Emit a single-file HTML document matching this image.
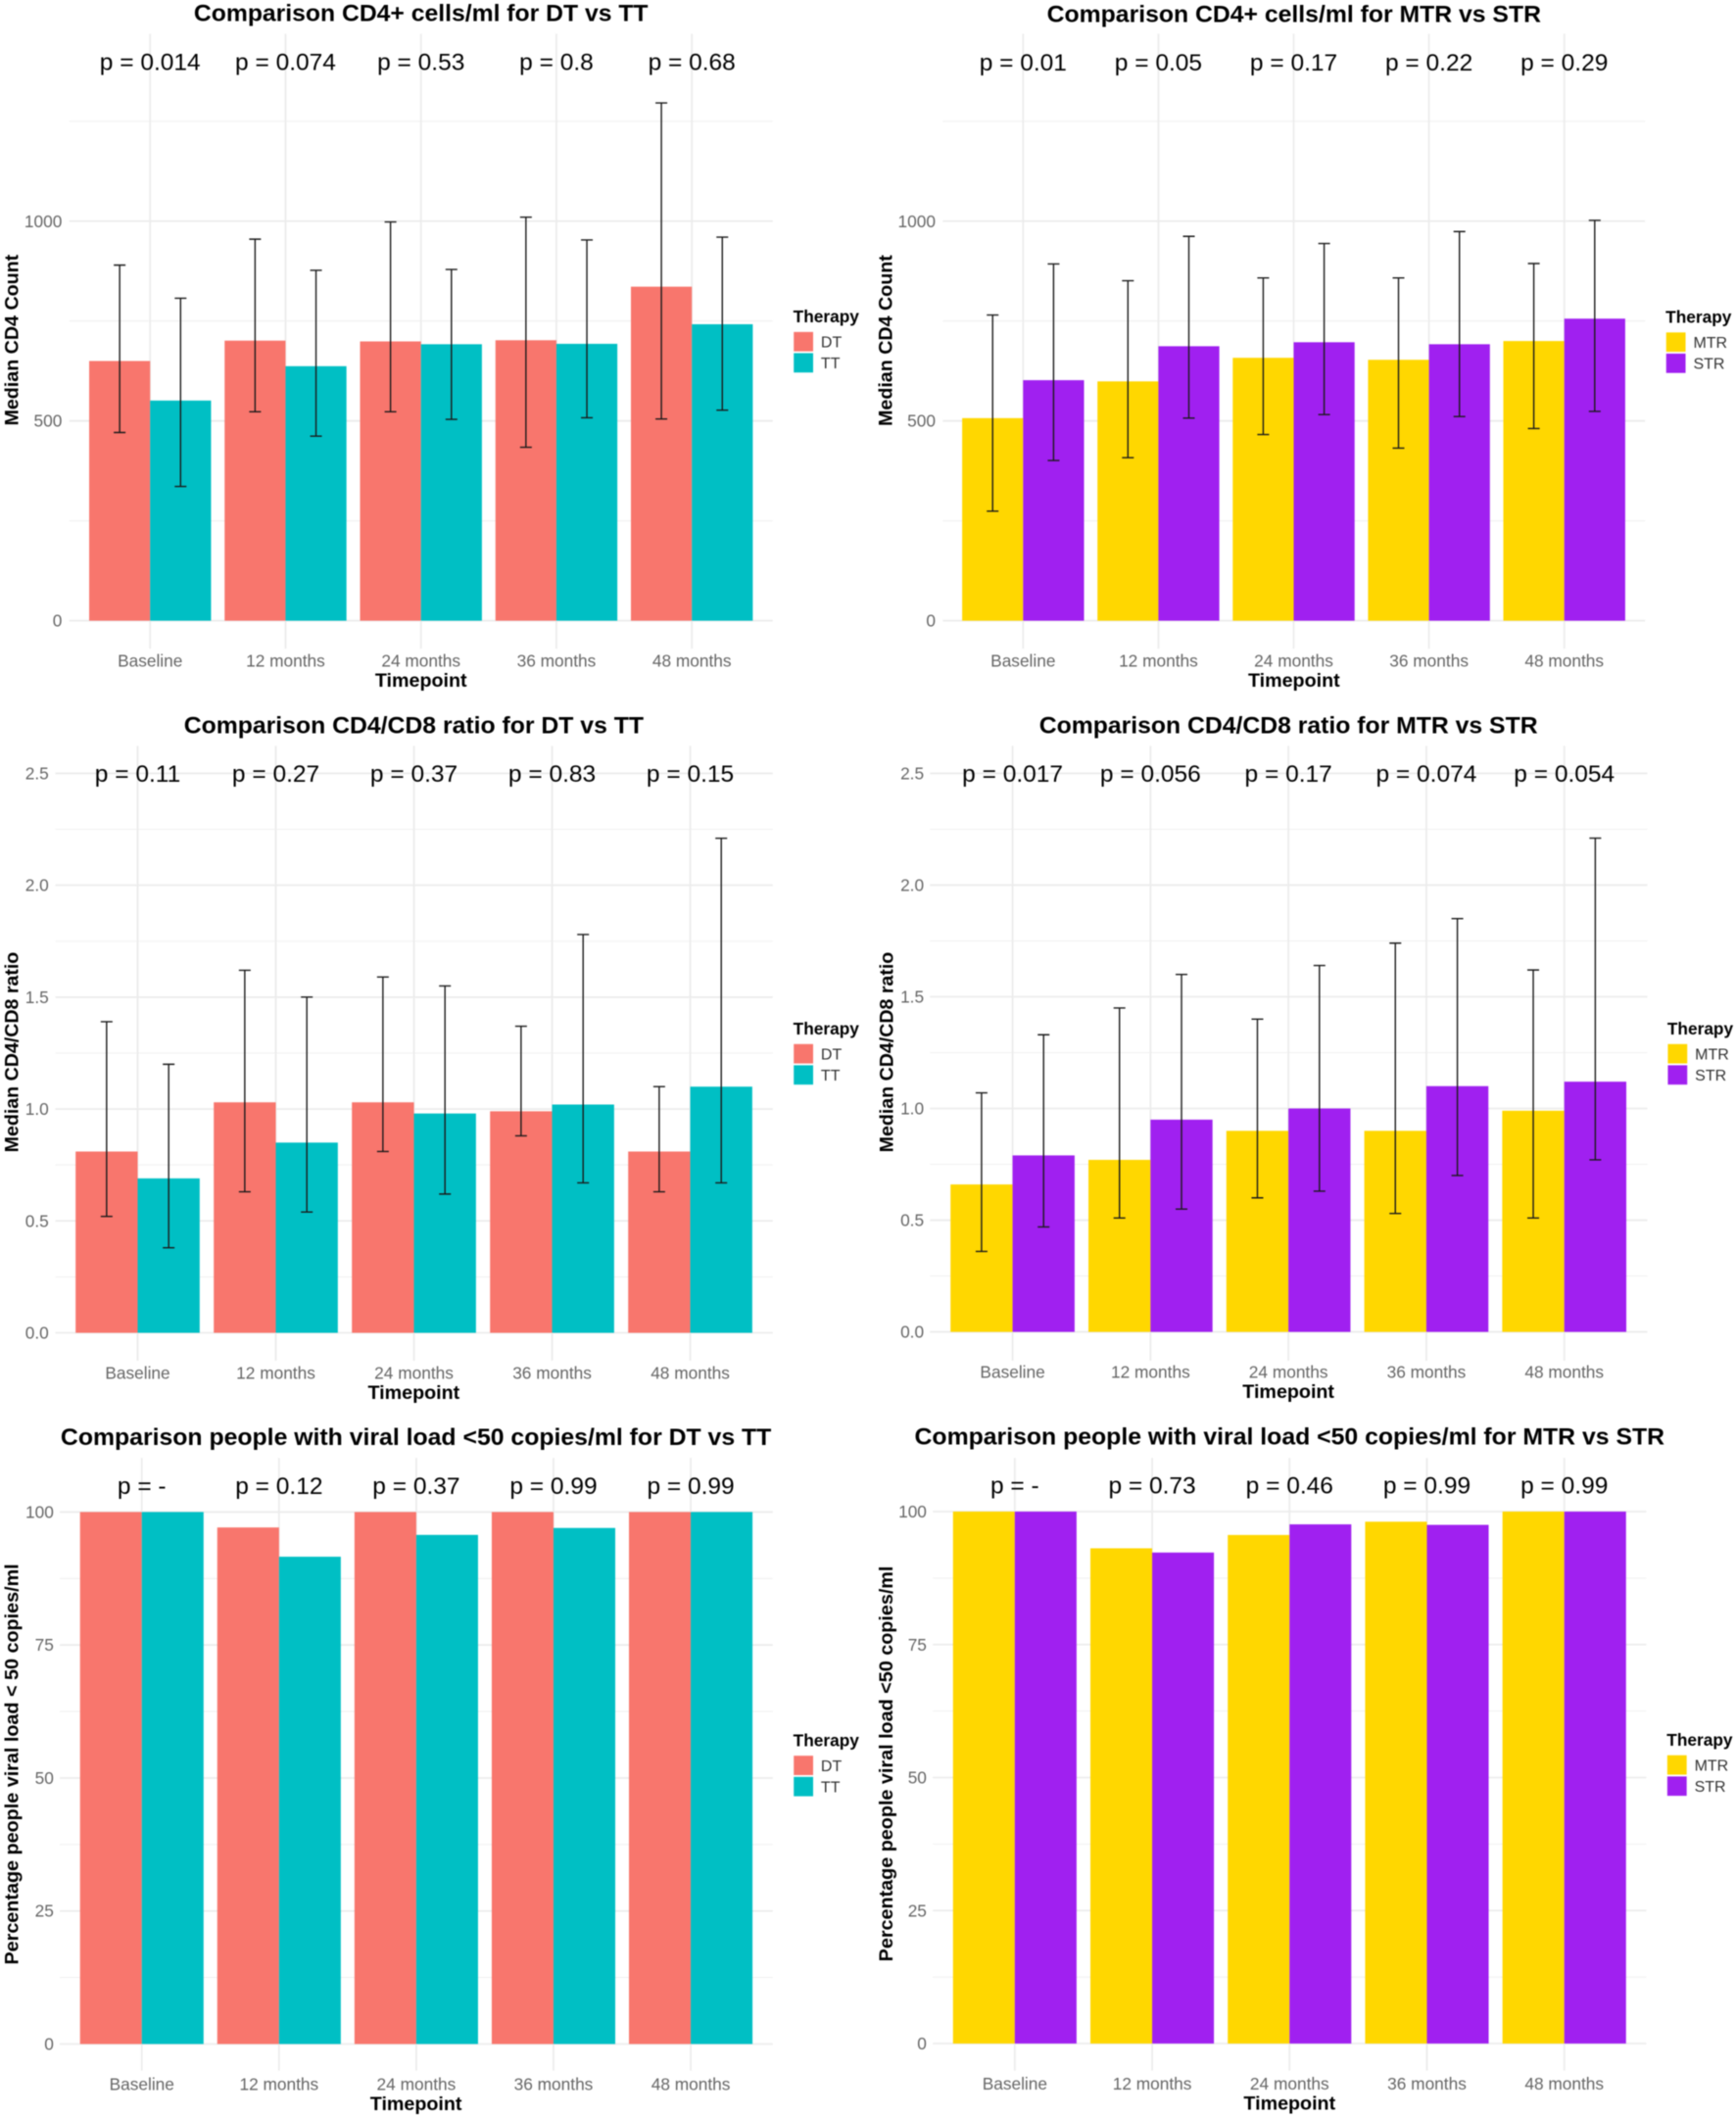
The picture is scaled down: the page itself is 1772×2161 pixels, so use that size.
<!DOCTYPE html>
<html lang="en">
<head>
<meta charset="utf-8">
<title>CD4, CD4/CD8 and viral load comparisons</title>
<style>
html,body{margin:0;padding:0;background:#fff;overflow:hidden;}
#figure{display:block;width:1772px;height:2161px;filter:blur(0.45px);font-family:"Liberation Sans",Arial,sans-serif;}
</style>
</head>
<body>
<svg id="figure" xmlns="http://www.w3.org/2000/svg" width="1772" height="2161" viewBox="0 0 1772 2161"></svg>
<script>
const categories = ["Baseline", "12 months", "24 months", "36 months", "48 months"];

const cd4Ticks = [0, 500, 1000];
const cd4TickLabels = ["0", "500", "1000"];
const cd4Minor = [250, 750, 1250];
const ratioTicks = [0, 0.5, 1, 1.5, 2, 2.5];
const ratioTickLabels = ["0.0", "0.5", "1.0", "1.5", "2.0", "2.5"];
const ratioMinor = [0.25, 0.75, 1.25, 1.75, 2.25];
const vlTicks = [0, 25, 50, 75, 100];
const vlTickLabels = ["0", "25", "50", "75", "100"];
const vlMinor = [12.5, 37.5, 62.5, 87.5];

const cd4DtMedian = [650, 701, 699, 702, 836];
const cd4DtLow = [471, 523, 523, 434, 505];
const cd4DtHigh = [890, 955, 998, 1010, 1296];
const cd4TtMedian = [551, 637, 692, 693, 742];
const cd4TtLow = [336, 462, 504, 508, 527];
const cd4TtHigh = [807, 877, 879, 953, 960];
const cd4DtTtP = ["p = 0.014", "p = 0.074", "p = 0.53", "p = 0.8", "p = 0.68"];

const cd4MtrMedian = [507, 599, 658, 653, 700];
const cd4MtrLow = [274, 408, 466, 432, 481];
const cd4MtrHigh = [765, 851, 858, 858, 894];
const cd4StrMedian = [602, 687, 697, 692, 756];
const cd4StrLow = [401, 507, 516, 511, 524];
const cd4StrHigh = [893, 962, 944, 974, 1002];
const cd4MtrStrP = ["p = 0.01", "p = 0.05", "p = 0.17", "p = 0.22", "p = 0.29"];

const ratioDtMedian = [0.81, 1.03, 1.03, 0.99, 0.81];
const ratioDtLow = [0.52, 0.63, 0.81, 0.88, 0.63];
const ratioDtHigh = [1.39, 1.62, 1.59, 1.37, 1.10];
const ratioTtMedian = [0.69, 0.85, 0.98, 1.02, 1.10];
const ratioTtLow = [0.38, 0.54, 0.62, 0.67, 0.67];
const ratioTtHigh = [1.20, 1.50, 1.55, 1.78, 2.21];
const ratioDtTtP = ["p = 0.11", "p = 0.27", "p = 0.37", "p = 0.83", "p = 0.15"];

const ratioMtrMedian = [0.66, 0.77, 0.90, 0.90, 0.99];
const ratioMtrLow = [0.36, 0.51, 0.60, 0.53, 0.51];
const ratioMtrHigh = [1.07, 1.45, 1.40, 1.74, 1.62];
const ratioStrMedian = [0.79, 0.95, 1.00, 1.10, 1.12];
const ratioStrLow = [0.47, 0.55, 0.63, 0.70, 0.77];
const ratioStrHigh = [1.33, 1.60, 1.64, 1.85, 2.21];
const ratioMtrStrP = ["p = 0.017", "p = 0.056", "p = 0.17", "p = 0.074", "p = 0.054"];

const vlDtPercent = [100, 97.1, 100, 100, 100];
const vlTtPercent = [100, 91.6, 95.7, 97.0, 100];
const vlDtTtP = ["p = -", "p = 0.12", "p = 0.37", "p = 0.99", "p = 0.99"];

const vlMtrPercent = [100, 93.1, 95.6, 98.1, 100];
const vlStrPercent = [100, 92.3, 97.6, 97.5, 100];
const vlMtrStrP = ["p = -", "p = 0.73", "p = 0.46", "p = 0.99", "p = 0.99"];

const seriesDtName = "DT";
const seriesTtName = "TT";
const seriesMtrName = "MTR";
const seriesStrName = "STR";

const NS = "http://www.w3.org/2000/svg";
const K = 0.5654;
const KY = 0.4598;
const svg = document.getElementById("figure");
const COL_DT = "#F8766D", COL_TT = "#00BFC4", COL_MTR = "#FFD700", COL_STR = "#A020F0";

function make(tag, parent, attrs) {
  const el = document.createElementNS(NS, tag);
  for (const k in attrs) el.setAttribute(k, attrs[k]);
  parent.appendChild(el);
  return el;
}

function label(parent, txt, x, y, o) {
  const a = {
    "font-size": o.size,
    "font-weight": o.bold ? "bold" : "normal",
    "fill": o.fill || "#000",
    "text-anchor": o.anchor || "start",
    "transform": "translate(" + x + "," + y + ")" + (o.rot ? " rotate(-90)" : "") + (o.sx ? " scale(" + o.sx + ",1)" : "")
  };
  if (o.len) { a.textLength = o.len; a.lengthAdjust = "spacingAndGlyphs"; }
  const t = make("text", parent, a);
  t.textContent = txt;
  return t;
}

function drawPanel(cfg) {
  const X = v => cfg.ox + v * K;
  const Y = v => cfg.oy + v * KY;
  const xScale = i => X(cfg.cat0 + i * cfg.catStep);
  const yScale = v => Y(cfg.y0 - v * cfg.yUnit);
  const barW = cfg.barW * K;

  const g = make("g", svg, {});
  
  

  cfg.minor.forEach(v => {
    const l = make("line", g, {x1: X(cfg.left), x2: X(cfg.right), y1: yScale(v), y2: yScale(v), stroke: "#f1f1f1", "stroke-width": 1.1});
    
    
  });
  cfg.ticks.forEach(v => {
    const l = make("line", g, {x1: X(cfg.left), x2: X(cfg.right), y1: yScale(v), y2: yScale(v), stroke: "#ececec", "stroke-width": 1.8});
    
    
  });
  categories.forEach((c, i) => {
    const l = make("line", g, {x1: xScale(i), x2: xScale(i), y1: Y(cfg.top), y2: Y(cfg.bottom), stroke: "#ececec", "stroke-width": 1.8});
    
    
  });

  cfg.series.forEach((s, si) => {
    s.values.forEach((v, i) => {
      const x0 = xScale(i) + (si === 0 ? -barW : 0);
      const r = make("rect", g, {x: x0, y: yScale(v), width: barW, height: yScale(0) - yScale(v), fill: s.color});
      
      
    });
  });

  cfg.series.forEach((s, si) => {
    if (!s.low) return;
    s.values.forEach((v, i) => {
      const cx = xScale(i) + (si === 0 ? -barW / 2 : barW / 2);
      const yL = yScale(s.low[i]), yH = yScale(s.high[i]);
      const e = make("path", g, {
        d: "M" + (cx - 6) + " " + yH + "H" + (cx + 6) + "M" + cx + " " + yH + "V" + yL + "M" + (cx - 6) + " " + yL + "H" + (cx + 6),
        fill: "none", stroke: "#1a1a1a", "stroke-width": 1.4
      });
      
      
    });
  });

  const title = label(g, cfg.title, X(cfg.titleX), Y(cfg.titleBase), {size: 24.5, bold: true, anchor: "middle", len: cfg.titleLen * K});
  
  

  cfg.pValues.forEach((p, i) => {
    const t = label(g, p, xScale(i), Y(cfg.pBase), {size: 24.5, anchor: "middle"});
    
    
  });

  categories.forEach((c, i) => {
    const t = label(g, c, xScale(i), Y(cfg.catBase), {size: 17.3, anchor: "middle", fill: "#666"});
    
    
  });
  cfg.ticks.forEach((v, i) => {
    const t = label(g, cfg.tickLabels[i], X(cfg.tickRight), yScale(v) + 6, {size: 17.3, anchor: "end", fill: "#666"});
    
    
  });

  const xt = label(g, "Timepoint", X(cfg.titleX), Y(cfg.xTitleBase), {size: 19.7, bold: true, anchor: "middle"});
  
  

  const yt = label(g, cfg.yTitle, X(cfg.yTitleBase), Y(cfg.yTitleMid), {size: 19.7, bold: true, anchor: "middle", rot: true, len: cfg.yTitleLen * KY});
  
  

  const lg = make("g", g, {});
  
  
  const lt = label(lg, "Therapy", X(cfg.legendX), Y(cfg.legendBase), {size: 17.3, bold: true});
  
  
  cfg.series.forEach((s, si) => {
    const top = cfg.legendBase + 21 + si * 47;
    const k = make("rect", lg, {x: X(cfg.legendX + 1), y: Y(top), width: 35 * K, height: 43 * KY, fill: s.color});
    
    
    const t = label(lg, s.name, X(cfg.legendX + 50), Y(top + 34), {size: 16, fill: "#333"});
    
    
  });
}

drawPanel({
  name: "cd4-dt-vs-tt-panel", ox: 0, oy: 0,
  left: 125, right: 1395, top: 75, bottom: 1440, y0: 1378, yUnit: 0.887, cat0: 271, catStep: 244.5, barW: 110,
  ticks: cd4Ticks, tickLabels: cd4TickLabels, minor: cd4Minor, tickRight: 112,
  title: "Comparison CD4+ cells/ml for DT vs TT", titleX: 760, titleBase: 47, titleLen: 820,
  pValues: cd4DtTtP, pBase: 155, catBase: 1480, xTitleBase: 1525,
  yTitle: "Median CD4 Count", yTitleBase: 33, yTitleMid: 755, yTitleLen: 380,
  legendX: 1432, legendBase: 716,
  series: [
    {name: seriesDtName, color: COL_DT, values: cd4DtMedian, low: cd4DtLow, high: cd4DtHigh},
    {name: seriesTtName, color: COL_TT, values: cd4TtMedian, low: cd4TtLow, high: cd4TtHigh}
  ]
});

drawPanel({
  name: "cd4-mtr-vs-str-panel", ox: 886, oy: 0,
  left: 135, right: 1403, top: 75, bottom: 1440, y0: 1378, yUnit: 0.887, cat0: 280, catStep: 244.25, barW: 110,
  ticks: cd4Ticks, tickLabels: cd4TickLabels, minor: cd4Minor, tickRight: 122,
  title: "Comparison CD4+ cells/ml for MTR vs STR", titleX: 769, titleBase: 49, titleLen: 892,
  pValues: cd4MtrStrP, pBase: 157, catBase: 1480, xTitleBase: 1525,
  yTitle: "Median CD4 Count", yTitleBase: 43, yTitleMid: 756, yTitleLen: 380,
  legendX: 1440, legendBase: 717,
  series: [
    {name: seriesMtrName, color: COL_MTR, values: cd4MtrMedian, low: cd4MtrLow, high: cd4MtrHigh},
    {name: seriesStrName, color: COL_STR, values: cd4StrMedian, low: cd4StrLow, high: cd4StrHigh}
  ]
});

drawPanel({
  name: "ratio-dt-vs-tt-panel", ox: 0, oy: 720,
  left: 100, right: 1395, top: 90, bottom: 1455, y0: 1393, yUnit: 496.8, cat0: 248.5, catStep: 249.4, barW: 112,
  ticks: ratioTicks, tickLabels: ratioTickLabels, minor: ratioMinor, tickRight: 88,
  title: "Comparison CD4/CD8 ratio for DT vs TT", titleX: 747, titleBase: 62, titleLen: 830,
  pValues: ratioDtTtP, pBase: 170, catBase: 1495, xTitleBase: 1540,
  yTitle: "Median CD4/CD8 ratio", yTitleBase: 33, yTitleMid: 770, yTitleLen: 445,
  legendX: 1432, legendBase: 731,
  series: [
    {name: seriesDtName, color: COL_DT, values: ratioDtMedian, low: ratioDtLow, high: ratioDtHigh},
    {name: seriesTtName, color: COL_TT, values: ratioTtMedian, low: ratioTtLow, high: ratioTtHigh}
  ]
});

drawPanel({
  name: "ratio-mtr-vs-str-panel", ox: 886, oy: 720,
  left: 112, right: 1407, top: 90, bottom: 1455, y0: 1391, yUnit: 496, cat0: 261, catStep: 249, barW: 112,
  ticks: ratioTicks, tickLabels: ratioTickLabels, minor: ratioMinor, tickRight: 101,
  title: "Comparison CD4/CD8 ratio for MTR vs STR", titleX: 759, titleBase: 62, titleLen: 900,
  pValues: ratioMtrStrP, pBase: 170, catBase: 1493, xTitleBase: 1538,
  yTitle: "Median CD4/CD8 ratio", yTitleBase: 45, yTitleMid: 770, yTitleLen: 445,
  legendX: 1443, legendBase: 731,
  series: [
    {name: seriesMtrName, color: COL_MTR, values: ratioMtrMedian, low: ratioMtrLow, high: ratioMtrHigh},
    {name: seriesStrName, color: COL_STR, values: ratioStrMedian, low: ratioStrLow, high: ratioStrHigh}
  ]
});

drawPanel({
  name: "viral-load-dt-vs-tt-panel", ox: 0, oy: 1440,
  left: 108, right: 1395, top: 105, bottom: 1465, y0: 1406, yUnit: 11.81, cat0: 256, catStep: 247.75, barW: 111.5,
  ticks: vlTicks, tickLabels: vlTickLabels, minor: vlMinor, tickRight: 97,
  title: "Comparison people with viral load <50 copies/ml for DT vs TT", titleX: 751, titleBase: 76, titleLen: 1283,
  pValues: vlDtTtP, pBase: 185, catBase: 1508, xTitleBase: 1553,
  yTitle: "Percentage people viral load < 50 copies/ml", yTitleBase: 33, yTitleMid: 785, yTitleLen: 890,
  legendX: 1432, legendBase: 745,
  series: [
    {name: seriesDtName, color: COL_DT, values: vlDtPercent},
    {name: seriesTtName, color: COL_TT, values: vlTtPercent}
  ]
});

drawPanel({
  name: "viral-load-mtr-vs-str-panel", ox: 886, oy: 1440,
  left: 117, right: 1405, top: 105, bottom: 1465, y0: 1405, yUnit: 11.81, cat0: 265, catStep: 248, barW: 111.5,
  ticks: vlTicks, tickLabels: vlTickLabels, minor: vlMinor, tickRight: 106,
  title: "Comparison people with viral load <50 copies/ml for MTR vs STR", titleX: 761, titleBase: 75, titleLen: 1354,
  pValues: vlMtrStrP, pBase: 184, catBase: 1507, xTitleBase: 1552,
  yTitle: "Percentage people viral load <50 copies/ml", yTitleBase: 44, yTitleMid: 784, yTitleLen: 878,
  legendX: 1442, legendBase: 744,
  series: [
    {name: seriesMtrName, color: COL_MTR, values: vlMtrPercent},
    {name: seriesStrName, color: COL_STR, values: vlStrPercent}
  ]
});
</script>
</body>
</html>
